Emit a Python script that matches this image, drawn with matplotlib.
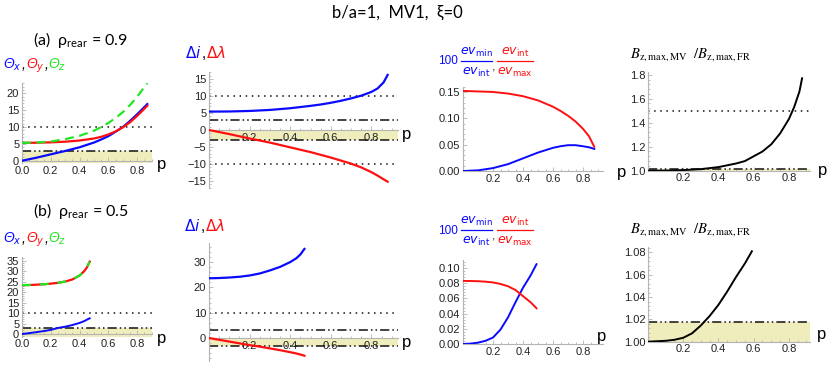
import numpy as np
import matplotlib
matplotlib.use("Agg")
import matplotlib.pyplot as plt
from matplotlib.lines import Line2D
from matplotlib.ticker import AutoMinorLocator

plt.rcParams['font.family'] = ['Liberation Sans', 'DejaVu Sans']

# ---------------- data ----------------
# (a) rho_rear = 0.9
p_theta_a = [0, 0.1, 0.2, 0.3, 0.4, 0.5, 0.55, 0.6, 0.65, 0.7, 0.75, 0.8, 0.84, 0.87]
theta_x_a = [0, 0.9, 1.9, 2.9, 4.0, 5.4, 6.3, 7.3, 8.6, 10.0, 11.8, 13.8, 15.5, 16.8]
theta_y_a = [5.3, 5.35, 5.45, 5.65, 6.0, 6.6, 7.1, 7.8, 8.7, 9.9, 11.4, 13.3, 15.0, 16.3]
theta_z_a = [5.3, 5.4, 5.7, 6.4, 7.4, 8.9, 10.0, 11.2, 12.7, 14.4, 16.5, 19.0, 21.3, 23.0]

p_delta_a = [0, 0.1, 0.2, 0.3, 0.4, 0.5, 0.55, 0.6, 0.65, 0.7, 0.75, 0.8, 0.83, 0.86, 0.88]
delta_i_a = [5.4, 5.45, 5.6, 5.9, 6.4, 7.1, 7.5, 8.0, 8.6, 9.3, 10.1, 11.2, 12.2, 14.0, 16.2]
delta_l_a = [0, -1.2, -2.5, -3.7, -5.1, -6.5, -7.3, -8.1, -9.0, -9.9, -11.0, -12.4, -13.4, -14.5, -15.2]

p_ev_a = [0, 0.1, 0.2, 0.3, 0.4, 0.5, 0.6, 0.65, 0.7, 0.75, 0.8, 0.84, 0.875]
ev_min_int_a = [0, 0.0012, 0.0055, 0.013, 0.024, 0.035, 0.044, 0.047, 0.049, 0.049, 0.047, 0.045, 0.042]
ev_int_max_a = [0.152, 0.151, 0.150, 0.147, 0.142, 0.134, 0.122, 0.114, 0.105, 0.094, 0.080, 0.066, 0.046]

p_bz_a = [0, 0.1, 0.2, 0.3, 0.4, 0.5, 0.55, 0.6, 0.65, 0.7, 0.75, 0.8, 0.83, 0.86, 0.875]
bz_ratio_a = [1.0, 1.001, 1.005, 1.013, 1.030, 1.06, 1.08, 1.12, 1.16, 1.22, 1.31, 1.43, 1.53, 1.66, 1.77]

# (b) rho_rear = 0.5
p_theta_b = [0, 0.05, 0.1, 0.15, 0.2, 0.25, 0.3, 0.35, 0.4, 0.43, 0.45, 0.47]
theta_x_b = [0, 0.45, 0.9, 1.4, 2.0, 2.9, 3.5, 4.3, 5.3, 6.1, 6.8, 7.5]
theta_yz_b = [23.3, 23.35, 23.5, 23.7, 24.0, 24.4, 25.0, 26.0, 27.9, 29.8, 31.6, 34.5]

p_delta_b = [0, 0.05, 0.1, 0.15, 0.2, 0.25, 0.3, 0.35, 0.4, 0.43, 0.45, 0.47]
delta_i_b = [23.6, 23.7, 23.9, 24.2, 24.7, 25.5, 26.7, 28.1, 30.0, 31.5, 33.0, 35.2]
delta_l_b = [0, -0.7, -1.4, -2.1, -2.8, -3.4, -4.1, -4.8, -5.6, -6.1, -6.5, -7.0]

p_ev_b = [0, 0.05, 0.1, 0.15, 0.2, 0.25, 0.3, 0.35, 0.4, 0.45, 0.49]
ev_min_int_b = [0, 0.0005, 0.0018, 0.0042, 0.0085, 0.019, 0.035, 0.055, 0.074, 0.090, 0.105]
ev_int_max_b = [0.083, 0.0829, 0.0826, 0.082, 0.081, 0.079, 0.076, 0.071, 0.063, 0.055, 0.047]

p_bz_b = [0, 0.1, 0.15, 0.2, 0.25, 0.3, 0.35, 0.4, 0.45, 0.5, 0.55, 0.59]
bz_ratio_b = [1.0, 1.0008, 1.0017, 1.0035, 1.0075, 1.0145, 1.023, 1.033, 1.045, 1.058, 1.070, 1.081]

# thresholds (dotted / dash-dot-dot / shaded band)
theta_dotted, theta_dashdot = 10, 3
delta_dotted, delta_dashdot = 10, 3
bz_dotted, bz_dashdot = 1.5, 1.018

x_ticks_full = [0.0, 0.2, 0.4, 0.6, 0.8]
x_ticks = [0.2, 0.4, 0.6, 0.8]

# ---------------- figure ----------------
W, H = 830, 365
fig = plt.figure(figsize=(W / 100, H / 100), dpi=100)

BLUE, RED, GREEN = '#0a0aff', '#ff1010', '#22e622'
BAND = '#f0edbd'
AXC = '#b4b4b4'
DOTTED = (0, (1, 3))
DASHDOT = (0, (6, 2, 1, 2, 1, 2))


def add_ax(x0, x1, ytop, ybot):
    return fig.add_axes([x0 / W, 1 - ybot / H, (x1 - x0) / W, (ybot - ytop) / H])


def style(ax, xlim, ylim, xt, xl, yt, yl, xaxis_y=None, xpad=2):
    ax.set_xlim(*xlim)
    ax.set_ylim(*ylim)
    for s in ('top', 'right'):
        ax.spines[s].set_visible(False)
    for s in ('left', 'bottom'):
        ax.spines[s].set_color(AXC)
        ax.spines[s].set_linewidth(0.8)
    if xaxis_y is not None:
        ax.spines['bottom'].set_position(('data', xaxis_y))
    ax.set_xticks(xt, xl)
    ax.set_yticks(yt, yl)
    ax.xaxis.set_minor_locator(AutoMinorLocator(4))
    ax.yaxis.set_minor_locator(AutoMinorLocator(5))
    ax.tick_params(which='both', direction='in', color=AXC, width=0.6,
                   labelsize=8, labelcolor='#222222', pad=2)
    ax.tick_params(axis='x', pad=xpad)
    ax.tick_params(which='major', length=3)
    ax.tick_params(which='minor', length=1.5)
    ax.patch.set_visible(False)


def hline(ax, y, style_):
    ax.axhline(y, color='#111111', lw=1.1, ls=style_, zorder=2)


def ftext(x, y, s, **kw):
    return fig.text(x / W, 1 - y / H, s, **kw)


def colored(x, y, parts, **kw):
    r = fig.canvas.get_renderer()
    for s, c in parts:
        t = ftext(x, y, s, color=c, **kw)
        x += t.get_window_extent(r).width


def frac(cx, ybar, width, num, den, color, fs=9):
    ftext(cx, ybar - 1.5, num, ha='center', va='bottom', color=color, fontsize=fs)
    ftext(cx, ybar + 4.5, den, ha='center', va='top', color=color, fontsize=fs)
    fig.add_artist(Line2D([(cx - width / 2) / W, (cx + width / 2) / W],
                          [1 - ybar / H, 1 - ybar / H], color=color, lw=0.9))


fmt1 = lambda v: [f"{t:.1f}" for t in v]

# ---- row a ----
ax = add_ax(22, 151.6, 83.2, 163.1)
style(ax, (0, 0.9), (-0.7, 23), x_ticks_full, fmt1(x_ticks_full),
      [0, 5, 10, 15, 20], ['0', '5', '10', '15', '20'], xaxis_y=0, xpad=3.5)
ax.axhspan(-0.7, theta_dashdot, color=BAND, lw=0, zorder=0)
hline(ax, theta_dotted, DOTTED)
hline(ax, theta_dashdot, DASHDOT)
ax.plot(p_theta_a, theta_x_a, color=BLUE, lw=1.6, zorder=3)
ax.plot(p_theta_a, theta_y_a, color=RED, lw=1.6, zorder=3)
ax.plot(p_theta_a, theta_z_a, color=GREEN, lw=1.6, dashes=(4, 2.5), zorder=4)

ax = add_ax(209, 397.8, 72.2, 187.8)
style(ax, (0, 0.93), (-17, 17), x_ticks, fmt1(x_ticks),
      [-15, -10, -5, 0, 5, 10, 15], None, xaxis_y=0)
ax.axhspan(-delta_dashdot, 0, color=BAND, lw=0, zorder=0)
hline(ax, delta_dotted, DOTTED)
hline(ax, -delta_dotted, DOTTED)
hline(ax, delta_dashdot, DASHDOT)
hline(ax, -delta_dashdot, DASHDOT)
ax.plot(p_delta_a, delta_i_a, color=BLUE, lw=1.6, zorder=3)
ax.plot(p_delta_a, delta_l_a, color=RED, lw=1.6, zorder=3)

ax = add_ax(463, 602.5, 86.7, 171)
style(ax, (0, 0.93), (0, 0.16), x_ticks, fmt1(x_ticks),
      [0, 0.05, 0.10, 0.15], ['0.00', '0.05', '0.10', '0.15'])
ax.plot(p_ev_a, ev_min_int_a, color=BLUE, lw=1.4, zorder=3)
ax.plot(p_ev_a, ev_int_max_a, color=RED, lw=1.4, zorder=3)

ax = add_ax(648, 810, 72.3, 170.7)
style(ax, (0, 0.92), (1.0, 1.82), x_ticks, fmt1(x_ticks),
      [1.0, 1.2, 1.4, 1.6, 1.8], ['1.0', '1.2', '1.4', '1.6', '1.8'])
ax.axhspan(1.0, bz_dashdot, color=BAND, lw=0, zorder=0)
hline(ax, bz_dotted, DOTTED)
hline(ax, bz_dashdot, DASHDOT)
ax.plot(p_bz_a, bz_ratio_a, color='black', lw=1.4, zorder=3)

# ---- row b ----
ax = add_ax(22, 151.6, 257.4, 337.2)
style(ax, (0, 0.9), (-1.5, 36.5), x_ticks_full, fmt1(x_ticks_full),
      list(range(0, 40, 5)), None, xaxis_y=0, xpad=3.5)
ax.axhspan(-1.5, theta_dashdot, color=BAND, lw=0, zorder=0)
hline(ax, theta_dotted, DOTTED)
hline(ax, theta_dashdot, DASHDOT)
ax.plot(p_theta_b, theta_x_b, color=BLUE, lw=1.4, zorder=3)
ax.plot(p_theta_b, theta_yz_b, color=RED, lw=1.6, zorder=3)
ax.plot(p_theta_b, theta_yz_b, color=GREEN, lw=1.6, dashes=(4, 4), zorder=4)

ax = add_ax(209, 397.8, 243.1, 360.8)
style(ax, (0, 0.93), (-9, 37.5), x_ticks, fmt1(x_ticks),
      [0, 10, 20, 30], None, xaxis_y=0)
ax.axhspan(-delta_dashdot, 0, color=BAND, lw=0, zorder=0)
hline(ax, delta_dotted, DOTTED)
hline(ax, delta_dashdot, DASHDOT)
hline(ax, -delta_dashdot, DASHDOT)
ax.plot(p_delta_b, delta_i_b, color=BLUE, lw=1.6, zorder=3)
ax.plot(p_delta_b, delta_l_b, color=RED, lw=1.6, zorder=3)

ax = add_ax(463, 602.5, 260.4, 344)
style(ax, (0, 0.93), (0, 0.11), x_ticks, fmt1(x_ticks),
      [0, 0.02, 0.04, 0.06, 0.08, 0.10],
      ['0.00', '0.02', '0.04', '0.06', '0.08', '0.10'])
ax.plot(p_ev_b, ev_min_int_b, color=BLUE, lw=1.4, zorder=3)
ax.plot(p_ev_b, ev_int_max_b, color=RED, lw=1.4, zorder=3)

ax = add_ax(648, 810, 246.8, 341.7)
style(ax, (0, 0.92), (1.0, 1.085), x_ticks, fmt1(x_ticks),
      [1.0, 1.02, 1.04, 1.06, 1.08], ['1.00', '1.02', '1.04', '1.06', '1.08'])
ax.axhspan(1.0, bz_dashdot, color=BAND, lw=0, zorder=0)
hline(ax, bz_dashdot, DASHDOT)
ax.plot(p_bz_b, bz_ratio_b, color='black', lw=1.4, zorder=3)

# ---------------- texts ----------------
sans = ['Lato', 'DejaVu Sans']
ftext(397, 13, "b/a=1,  MV1,  ξ=0", ha='center', va='center', fontsize=12, family=sans)
ftext(33, 40, r"(a)  ρ$_\mathregular{rear}$ = 0.9", ha='left', va='center', fontsize=11.5, family=sans)
ftext(33, 211, r"(b)  ρ$_\mathregular{rear}$ = 0.5", ha='left', va='center', fontsize=11.5, family=sans)

theta_parts = [("Θ$_x$", BLUE), (",", 'black'), ("Θ$_y$", RED), (",", 'black'), ("Θ$_z$", GREEN)]
colored(3, 69, theta_parts, va='baseline', fontsize=10, style='italic')
colored(3, 243, theta_parts, va='baseline', fontsize=10, style='italic')

delta_parts = [(r"$\Delta i$", BLUE), (",", 'black'), (r"$\Delta\lambda$", RED)]
colored(185, 58, delta_parts, va='baseline', fontsize=11)
colored(184, 231, delta_parts, va='baseline', fontsize=11)

for yb in (61, 230):
    ftext(438, yb + 0.5, "100", va='center', ha='left', fontsize=8.5, color=BLUE)
    frac(476.5, yb, 31, r"$ev_{\rm min}$", r"$ev_{\rm int}$", BLUE)
    ftext(493.5, yb + 0.5, ",", va='top', ha='center', fontsize=9, color='#333333')
    frac(515, yb, 36, r"$ev_{\rm int}$", r"$ev_{\rm max}$", RED)

for yb in (57, 232):
    ftext(630, yb, r"$B_{\rm z,max,MV}\ \ /B_{\rm z,max,FR}$", va='baseline',
          fontsize=10.5, math_fontfamily='stix')

for (xp, yp) in [(162, 165), (407, 134), (622, 172), (823, 170),
                 (162, 339), (407, 342), (602, 337), (822, 335)]:
    ftext(xp, yp, "p", ha='center', va='center', fontsize=12)

fig.savefig("out.png", dpi=100)
